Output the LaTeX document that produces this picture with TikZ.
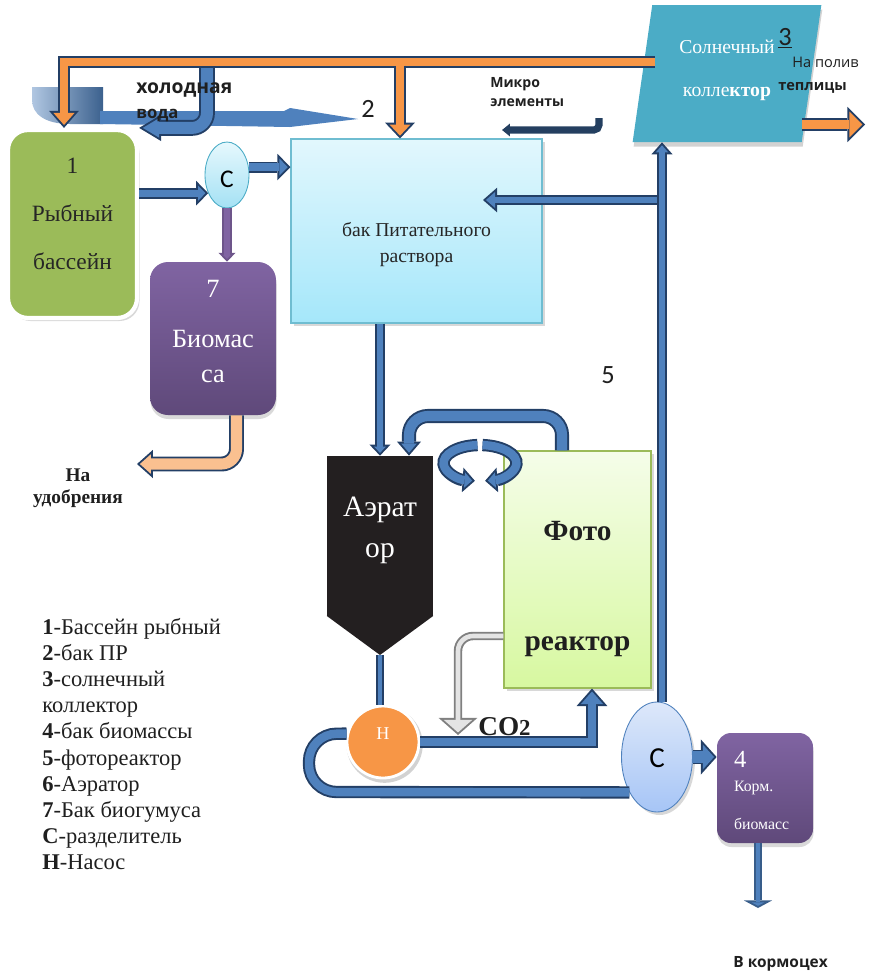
\documentclass[tikz,border=0pt]{standalone}
\usepackage{fontspec}
\setmainfont{Liberation Serif}
\newfontfamily\labelfont{Open Sans}
\newfontfamily\digitfont{Carlito}
\usetikzlibrary{arrows.meta,shapes.geometric,shadows}

\definecolor{pipeblue}{HTML}{4F81BD}
\definecolor{pipenavy}{HTML}{233F66}
\definecolor{pipesoft}{HTML}{385D8A}
\definecolor{hotorange}{HTML}{F79646}
\definecolor{paleorange}{HTML}{FAC090}
\definecolor{poolgreen}{HTML}{9BBB59}
\definecolor{solarblue}{HTML}{4BACC6}
\definecolor{violettop}{HTML}{8064A2}
\definecolor{violetbot}{HTML}{5F497A}
\definecolor{tanktop}{HTML}{E2F7FD}
\definecolor{tankbot}{HTML}{A5E7FA}
\definecolor{reacttop}{HTML}{F5FDE9}
\definecolor{reactbot}{HTML}{D7F8A0}
\definecolor{aerblack}{HTML}{231F20}
\definecolor{septop}{HTML}{E6F8FD}
\definecolor{sepbot}{HTML}{A4E1F4}
\definecolor{sepbtop}{HTML}{DDE8FA}
\definecolor{sepbbot}{HTML}{A6C5F6}
\definecolor{gasgrey}{HTML}{808080}
\definecolor{gasfill}{HTML}{E4E4E4}
\definecolor{microblue}{HTML}{243F60}

\newcommand{\pxu}{0.02cm}
\newcommand{\pipeb}{1.1}

\tikzset{%
  pipe/.style n args={3}{% band width (pt), fill, edge
    /utils/exec={\pgfmathsetmacro\pipein{#1-2*\pipeb}},
    line cap=butt, line join=miter,
    draw=#2, line width=\pipein pt,
    preaction={draw=#3, line width=#1pt}
  },
  pipe arrow/.style n args={5}{% band width, head width, head length (pt), fill, edge
    /utils/exec={%
      \pgfmathsetmacro\pipein{#1-2*\pipeb}%
      \pgfmathsetmacro\pipeang{atan(#2/(2*#3))}%
      \pgfmathsetmacro\pipes{\pipeb/sin(\pipeang)}%
      \pgfmathsetmacro\pipeL{#3-\pipeb-\pipes}%
      \pgfmathsetmacro\pipeW{2*\pipeL*tan(\pipeang)}},
    line cap=butt, line join=miter,
    draw=#4, line width=\pipein pt,
    -{Triangle[width=\pipeW pt,length=\pipeL pt,line width=0pt]}, shorten >=\pipes pt,
    preaction={draw=#5, line width=#1pt, shorten >=0pt,
      -{Triangle[width=#2pt,length=#3pt,line width=0pt]}}
  },
  micro arrow/.style={draw=microblue, line width=4pt, rounded corners=0.1cm,
    -{Triangle[width=7pt,length=4.5pt]}},
  soft shadow/.style={drop shadow={shadow xshift=0.05cm, shadow yshift=-0.06cm,
    fill=black!30, opacity=0.5}},
  pool/.style={rectangle, rounded corners=0.4cm, fill=poolgreen, draw=white,
    line width=2.4pt, soft shadow, minimum width=129*\pxu, minimum height=188*\pxu,
    align=center, text=black!85, font=\fontsize{13.3}{27.5}\selectfont},
  violet box/.style={rectangle, rounded corners=0.36cm, top color=violettop,
    bottom color=violetbot, draw=none, text=white, align=center,
    drop shadow={shadow xshift=0.01cm, shadow yshift=-0.08cm, fill=black!25, opacity=0.6}},
  tank/.style={rectangle, top color=tanktop, bottom color=tankbot, draw=solarblue!80,
    line width=0.6pt, soft shadow, minimum width=251*\pxu, minimum height=184*\pxu,
    align=center, text=black!85, font=\fontsize{11.2}{15}\selectfont},
  solar/.style={trapezium, trapezium left angle=76.5, trapezium right angle=103.5,
    trapezium stretches=true, minimum width=190*\pxu, minimum height=137*\pxu,
    fill=solarblue, draw=none, text=white, align=center,
    font=\fontsize{11.2}{25}\selectfont,
    drop shadow={shadow xshift=0.02cm, shadow yshift=-0.09cm, fill=black!22, opacity=0.8}},
  aerator/.style={rectangle, fill=aerblack, draw=none, text=white, align=center,
    minimum width=106*\pxu, minimum height=160*\pxu, font=\fontsize{16.8}{22.8}\selectfont},
  reactor/.style={rectangle, top color=reacttop, bottom color=reactbot, draw=poolgreen,
    line width=0.6pt, soft shadow, minimum width=147*\pxu, minimum height=237*\pxu,
    align=center, text=black!88, font=\bfseries\fontsize{16.7}{63}\selectfont},
  pump/.style={circle, fill=hotorange, draw=white, line width=1.6pt, inner sep=0pt,
    minimum size=72*\pxu, text=white, font=\fontsize{10.3}{12}\selectfont,
    drop shadow={shadow xshift=0.03cm, shadow yshift=-0.05cm, shadow scale=1.06,
      fill=black!35, opacity=0.5}},
  sep small/.style={ellipse, top color=septop, bottom color=sepbot, draw=solarblue,
    line width=0.5pt, inner sep=0pt, minimum width=44*\pxu, minimum height=66*\pxu,
    font=\digitfont\fontsize{14.5}{16}\selectfont},
  sep big/.style={ellipse, top color=sepbtop, bottom color=sepbbot, draw=pipeblue,
    line width=0.5pt, inner sep=0pt, minimum width=71*\pxu, minimum height=110*\pxu,
    font=\digitfont\fontsize{16.5}{18}\selectfont, soft shadow},
  note/.style={inner sep=0pt, text=black!88},
  legend/.style={note, anchor=base west, align=left, font=\fontsize{12.8}{14.8}\selectfont},
}

\begin{document}
\begin{tikzpicture}[x=0.02cm, y=-0.02cm]
\useasboundingbox (0,0) rectangle (869,971);

% blurred cold water stream
\shade[left color=pipeblue!45, right color=pipeblue!75!black]
  (32,87) -- (103,87) -- (103,124) -- (70,124) .. controls (45,124) and (32,114) .. (32,100) -- cycle;
\fill[pipeblue] (100,111) -- (284,111) -- (290,108) -- (358,119) -- (290,127) -- (100,124) -- cycle;

% units
\node[pool, text height=52.3pt, text depth=0pt] (pool) at (72.5,224) {1\\Рыбный\\бассейн};
\node[sep small, text height=13.7pt, text depth=0pt] (sepA) at (227,175) {С};
\node[tank, text height=36.4pt, text depth=0pt] (tank) at (416.5,231) {бак Питательного\\раствора};
\node[violet box, minimum width=126*\pxu, minimum height=153*\pxu,
  font=\fontsize{15}{28.5}\selectfont, text height=50.6pt, text depth=0pt]
  (humus) at (213,338.5) {7\\Биомас\\[-8.5pt]са};
\node[solar, text height=26.7pt, text depth=0pt] (solar) at (727,73.5) {Солнечный\\колле\textbf{ктор}};
\node[aerator, text height=23.9pt, text depth=0pt] (aer) at (380,536) {Аэрат\\ор};
\coordinate (aertip) at (380,655);
\fill[aerblack] ([yshift=0.3pt]aer.south west) -- ([yshift=0.3pt]aer.south east) -- (aertip) -- cycle;
\node[reactor, text height=92.7pt, text depth=0pt] (reactor) at (577.5,569.5) {Фото\\реактор};
\node[pump, text height=0pt, text depth=3.4pt] (pump) at (383,742) {Н};
\node[sep big, text height=12.5pt, text depth=0pt] (sepB) at (657,757) {С};
\node[violet box, rounded corners=0.28cm, minimum width=96*\pxu, minimum height=110*\pxu,
  align=left, text width=62*\pxu, font=\fontsize{9}{14.2}\selectfont,
  text height=0pt, text depth=23.9pt]
  (feed) at (765,788) {{\fontsize{14}{14.2}\selectfont 4}\\Корм.\\[7.4pt]биомасс};

% hot water from the collector
\coordinate (hotsrc) at (655,62);
\coordinate (hotbend) at (64,62);
\coordinate (hotjoin) at (400,65.5);
\coordinate (irrigout) at (865,124.5);
\draw[pipe arrow={6.8}{17}{9.7}{hotorange}{pipenavy}] (hotsrc) -- (hotbend) -- (hotbend |- pool.north);
\draw[pipe arrow={6.8}{17}{9}{hotorange}{pipenavy}] (hotjoin) -- (hotjoin |- tank.north);
\draw[pipe arrow={7.4}{20}{10}{hotorange}{pipenavy}] (solar.bottom right corner |- irrigout) -- (irrigout);

% cold water
\coordinate (coldsrc) at (207,68);
\draw[pipe arrow={9}{15}{12.5}{pipeblue}{pipenavy}, rounded corners=0.3cm] (coldsrc) |- (pool.north east);

% micro elements
\coordinate (microsrc) at (599,118);
\coordinate (microend) at (502,130);
\draw[micro arrow] (microsrc) |- (microend);

% pool, separator, tank
\draw[pipe arrow={6.3}{14}{6.8}{pipeblue}{pipenavy}] (pool.east |- sepA.224) -- (sepA.224);
\draw[pipe arrow={6.3}{15}{7.4}{pipeblue}{pipenavy}] (sepA.20) -- (sepA.20 -| tank.west);
\draw[pipe arrow={5.5}{9.7}{5}{violettop}{violettop!85!black}] (sepA.south) -- (sepA.south |- humus.north);

% fertiliser out
\coordinate (fertbend) at (236.5,464);
\coordinate (fertend) at (137,464);
\draw[pipe arrow={8.5}{16}{9}{paleorange}{pipenavy}, rounded corners=0.3cm]
  (fertbend |- humus.south) -- (fertbend) -- (fertend);

% tank, aerator, reactor
\draw[pipe arrow={5.7}{12}{6.3}{pipeblue}{pipenavy}] (aer.north |- tank.south) -- (aer.north);
\coordinate (loopR) at (562,416);
\coordinate (loopL) at (409,416);
\draw[pipe arrow={8}{13.7}{8}{pipeblue}{pipenavy}, rounded corners=0.38cm]
  (loopR |- reactor.north) -- (loopR) -- (loopL) -- (loopL |- aer.north);
\coordinate (swirl) at (480,463);
\draw[pipe arrow={7}{14}{7}{pipeblue}{pipenavy}]
  ([shift={(94:0.73cm and 0.36cm)}]swirl) arc[start angle=94, end angle=262, x radius=0.73cm, y radius=0.36cm];
\draw[pipe arrow={7}{14}{7}{pipeblue}{pipenavy}]
  ([shift={(86:0.73cm and 0.36cm)}]swirl) arc[start angle=86, end angle=-82, x radius=0.73cm, y radius=0.36cm];

% pump circuit
\draw[pipe={4.5}{pipeblue}{pipenavy}] (aertip) -- (aertip |- pump.north);
\coordinate (loopbot) at (309,792);
\coordinate (looptop) at (309,734);
\draw[pipe={7}{pipeblue}{pipenavy}, rounded corners=0.55cm]
  (sepB.232) -- (loopbot) -- (looptop) -- (pump.167);
\coordinate (gasbend) at (458,636);
\coordinate (gasend) at (458,735);
\draw[pipe arrow={4.8}{22}{9.7}{gasfill}{gasgrey}, rounded corners=0.3cm]
  (reactor.west |- gasbend) -- (gasbend) -- (gasend);
\coordinate (riser) at (592,700);
\draw[pipe arrow={6.3}{17.6}{10}{pipeblue}{pipenavy}] (pump.east) -| (riser |- reactor.south);

% return to tank and collector
\coordinate (spine) at (662,200);
\coordinate (tankin) at (483,200);
\draw[pipe arrow={5.7}{14}{8}{pipeblue}{pipenavy}] (spine) -- (tankin);
\draw[pipe arrow={5.7}{12}{6.8}{pipeblue}{pipenavy}] (sepB.north -| spine) -- (spine |- solar.south);

% feed biomass
\coordinate (feedshopin) at (758,908);
\draw[pipe arrow={8.5}{20}{9}{pipeblue}{pipenavy}] (sepB.east) -- (sepB.east -| feed.west);
\draw[pipe arrow={5}{16}{4.3}{pipeblue}{pipesoft}] (feed.south -| feedshopin) -- (feedshopin);

% labels
\node[note, anchor=base west, align=left, font=\labelfont\bfseries\fontsize{11}{13.7}\selectfont]
  (cold) at (136,118) {холодная\\{\fontsize{9.5}{13.7}\selectfont вода}};
\node[note, anchor=base, font=\digitfont\fontsize{15}{16}\selectfont] (num2) at (368,117) {2};
\node[note, anchor=base west, align=left, font=\labelfont\bfseries\fontsize{8}{10.8}\selectfont]
  (micro) at (490,106) {Микро\\элементы};
\node[note, anchor=base, font=\digitfont\fontsize{15}{16}\selectfont] (num3) at (785,45) {\underline{3}};
\node[note, anchor=base west, align=left, font=\labelfont\fontsize{8.3}{13}\selectfont]
  (irrig) at (778,90) {\hspace*{8pt}На полив\\\textbf{теплицы}};
\node[note, anchor=base, align=center, font=\bfseries\fontsize{11}{12}\selectfont]
  (fert) at (78,503) {На\\удобрения};
\node[note, anchor=base, font=\digitfont\fontsize{15}{16}\selectfont] (num5) at (608,383) {5};
\node[note, anchor=base west, font=\bfseries\fontsize{15.5}{16}\selectfont]
  (gas) at (478,735) {CO{\fontsize{13}{13}\selectfont 2}};
\node[note, anchor=base west, font=\labelfont\bfseries\fontsize{8.8}{10}\selectfont]
  (feedshop) at (733,967) {В кормоцех};
\node[legend] (legend) at (42,869) {\textbf{1}-Бассейн рыбный\\
  \textbf{2}-бак ПР\\
  \textbf{3}-солнечный\\
  коллектор\\
  \textbf{4}-бак биомассы\\
  \textbf{5}-фотореактор\\
  \textbf{6}-Аэратор\\
  \textbf{7}-Бак биогумуса\\
  \textbf{С}-разделитель\\
  \textbf{Н}-Насос};
\end{tikzpicture}
\end{document}
